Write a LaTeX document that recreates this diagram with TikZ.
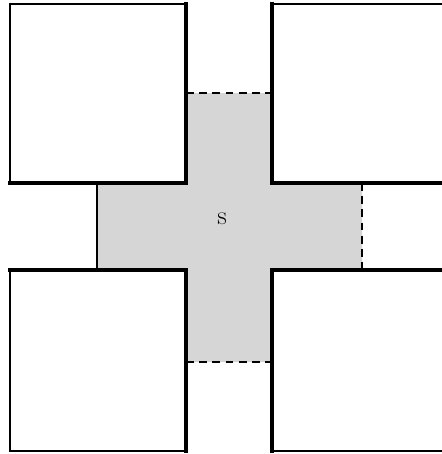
\documentclass[tikz,border=0pt]{standalone}
\usetikzlibrary{calc}
\tikzset{%
    wall/.style={%
        line width=1.2pt,
        line cap=rect,
    },
    face/.style={%
        line width=2.6pt,
        line cap=rect,
        line join=miter,
    },
    opening/.style={%
        line width=1.2pt,
        dash pattern=on 4.5pt off 3pt,
    },
    region/.style={%
        fill=black!16,
        draw=none,
    },
}

\begin{document}
\begin{tikzpicture}[x=0.02cm, y=-0.02cm]
	\useasboundingbox (0, 0) rectangle (442, 454);
	% inner corners of the four blocks
	\coordinate (corner_nw) at (186, 183);
	\coordinate (corner_ne) at (272, 183);
	\coordinate (corner_sw) at (186, 270);
	\coordinate (corner_se) at (272, 270);

	% shaded cross
	\fill[region] (186, 93) -- (272, 93) -- (corner_ne) -- (362, 183)
		-- (362, 270) -- (corner_se) -- (272, 362) -- (186, 362)
		-- (corner_sw) -- (97, 270) -- (97, 183) -- (corner_nw) -- cycle;

	\node at (222, 219) (label_s) {\fontsize{15}{17}\selectfont s};

	% open sides of the cross
	\draw[opening] (186, 93) -- (272, 93);
	\draw[opening] (362, 183) -- (362, 270);
	\draw[opening] (186, 362) -- (272, 362);
	\draw[wall] (97, 183) -- (97, 270);

	% blocks: thin outer sides
	\draw[wall] (186, 4) -- (10, 4) -- (10, 183);
	\draw[wall, line cap=butt] (272, 4) -- (442, 4);
	\draw[wall] (10, 270) -- (10, 451) -- (186, 451);
	\draw[wall, line cap=butt] (272, 451) -- (442, 451);

	% blocks: thick sides facing the cross
	\draw[face] (186, 4) -- (corner_nw) -- (10, 183);
	\draw[face] (272, 4) -- (corner_ne) -- (442, 183);
	\draw[face] (10, 270) -- (corner_sw) -- (186, 451);
	\draw[face] (442, 270) -- (corner_se) -- (272, 451);
\end{tikzpicture}
\end{document}
